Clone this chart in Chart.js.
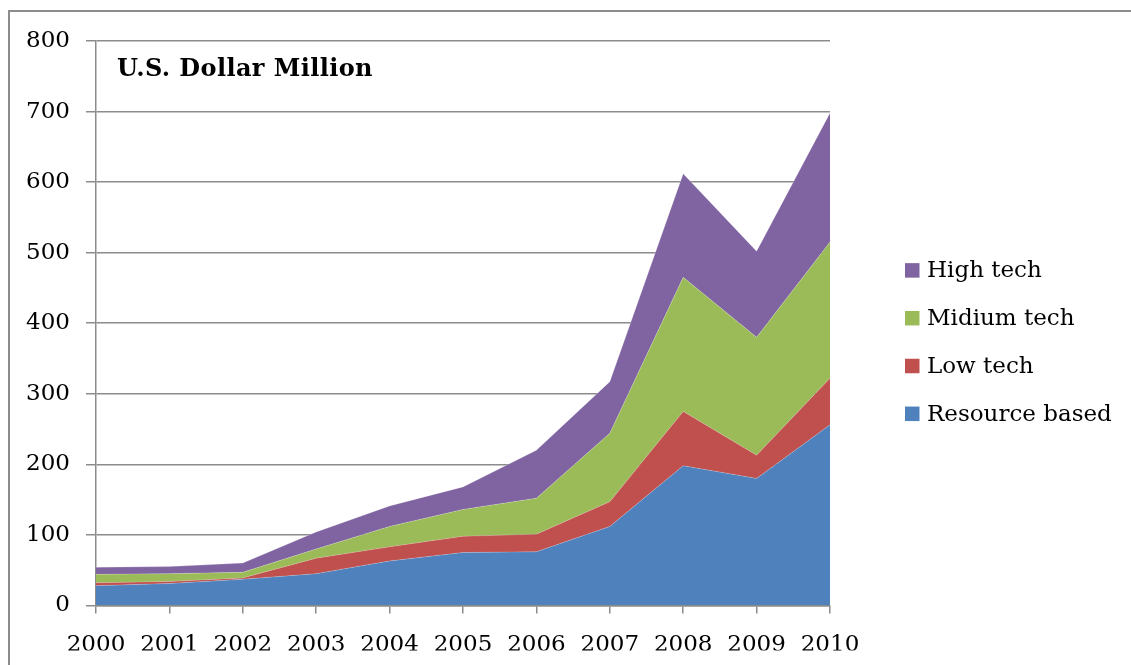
<!DOCTYPE html>
<html>
<head>
<meta charset="utf-8">
<script src="https://cdn.jsdelivr.net/npm/chart.js@4/dist/chart.umd.min.js"></script>
<style>
  html, body { margin: 0; padding: 0; background: #ffffff; overflow: hidden; }
  canvas { position: absolute; left: 0; top: 0; }
</style>
</head>
<body>
<canvas id="c" width="1131" height="665"></canvas>
<script>
const years = ['2000','2001','2002','2003','2004','2005','2006','2007','2008','2009','2010'];
const resourceBased = [28, 31, 37, 45, 63, 75, 76, 112, 198, 180, 256];
const lowTech       = [4, 3, 2, 22, 20, 23, 25, 35, 77, 33, 66];
const mediumTech    = [12, 11, 8, 13, 29, 38, 51, 97, 190, 167, 193];
const highTech      = [10, 10, 13, 24, 29, 32, 68, 73, 147, 122, 183];
const seriesNames   = ['Resource based', 'Low tech', 'Midium tech', 'High tech'];
const seriesColors  = ['#4F81BD', '#C0504D', '#9BBB59', '#8064A2'];
const unitLabel = 'U.S. Dollar Million';

const FONT = "'DejaVu Serif', serif";
const GRID = '#8c8c8c';

const series = [resourceBased, lowTech, mediumTech, highTech];
const datasets = series.map((vals, i) => ({
  label: seriesNames[i],
  data: vals,
  backgroundColor: seriesColors[i],
  borderColor: 'rgba(255,255,255,0.35)',
  borderWidth: 0.6,
  pointRadius: 0,
  pointHoverRadius: 0,
  tension: 0,
  fill: i === 0 ? 'origin' : '-1'
}));

const overlay = {
  id: 'overlay',
  beforeDraw(chart) {
    const ctx = chart.ctx;
    ctx.save();
    ctx.fillStyle = '#fff';
    ctx.fillRect(0, 0, chart.width, chart.height);
    // outer frame (left and top edges only)
    ctx.strokeStyle = '#8c8c8c';
    ctx.lineWidth = 2;
    ctx.beginPath();
    ctx.moveTo(9, chart.height + 2);
    ctx.lineTo(9, 11);
    ctx.lineTo(chart.width + 2, 11);
    ctx.stroke();
    ctx.restore();
  },
  afterDraw(chart) {
    const ctx = chart.ctx;
    const area = chart.chartArea;
    ctx.save();
    // unit label inside plot
    ctx.fillStyle = '#000';
    ctx.font = "bold 24px " + FONT;
    if ('letterSpacing' in ctx) ctx.letterSpacing = '0.4px';
    ctx.textAlign = 'left';
    ctx.textBaseline = 'alphabetic';
    ctx.fillText(unitLabel, area.left + 21, area.top + 35);
    if ('letterSpacing' in ctx) ctx.letterSpacing = '0px';
    // legend (reverse order, top = High tech)
    const ds = chart.data.datasets;
    const x0 = area.right + 75;
    const y0 = area.top + 229.4;
    const step = 47.8;
    const box = 14.5;
    ctx.font = "23px " + FONT;
    ctx.textBaseline = 'middle';
    for (let k = 0; k < ds.length; k++) {
      const d = ds[ds.length - 1 - k];
      const cy = y0 + k * step;
      ctx.fillStyle = d.backgroundColor;
      ctx.fillRect(x0, cy - box / 2, box, box);
      ctx.fillStyle = '#000';
      ctx.fillText(d.label, x0 + 22, cy + 1);
    }
    ctx.restore();
  }
};

new Chart(document.getElementById('c'), {
  type: 'line',
  data: { labels: years, datasets },
  plugins: [overlay],
  options: {
    responsive: false,
    animation: false,
    events: [],
    layout: { padding: { left: 26, right: 301, top: 41, bottom: 14.6 } },
    plugins: { legend: { display: false }, tooltip: { enabled: false }, title: { display: false } },
    scales: {
      x: {
        type: 'category',
        offset: false,
        afterFit(s) { s.height = 45; },
        grid: { drawOnChartArea: false, drawTicks: true, tickLength: 8, color: GRID, lineWidth: 1.5 },
        border: { display: true, color: GRID, width: 1.5 },
        ticks: { color: '#000', font: { family: FONT, size: 23 }, padding: 18, maxRotation: 0, autoSkip: false }
      },
      y: {
        stacked: true,
        min: 0, max: 800,
        afterFit(s) { s.width = 70; },
        grid: { color: GRID, lineWidth: 1.5, tickLength: 10, drawTicks: true },
        border: { display: true, color: GRID, width: 1.5 },
        ticks: { stepSize: 100, color: '#000', font: { family: FONT, size: 23 }, padding: 16 }
      }
    }
  }
});
</script>
</body>
</html>
